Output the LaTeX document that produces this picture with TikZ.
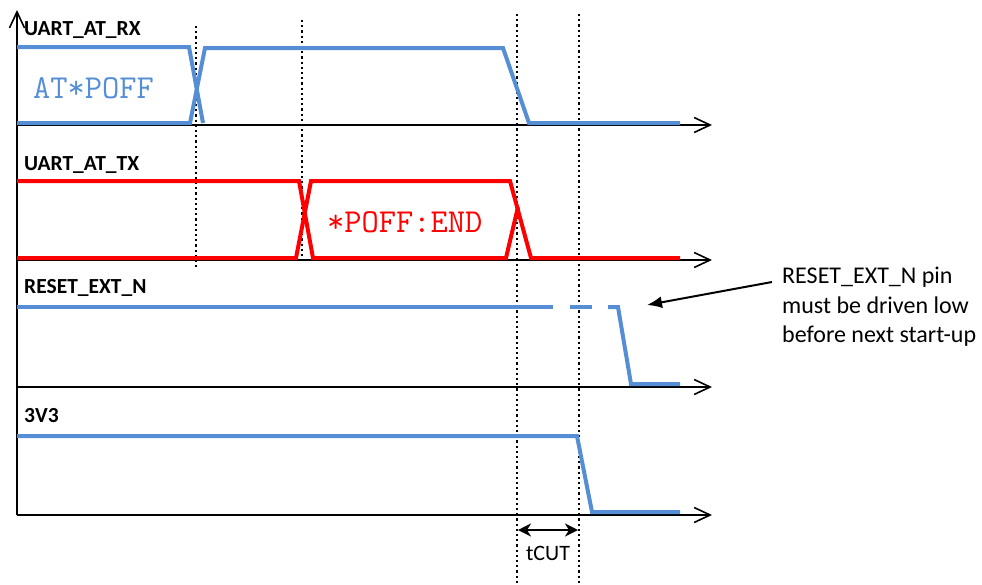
\documentclass[tikz,border=0pt]{standalone}
\usepackage{fontspec}
\setmainfont{Carlito}
\usetikzlibrary{positioning,arrows.meta}
\definecolor{sigblau}{RGB}{85,142,213}

\begin{document}
\begin{tikzpicture}[x=1pt,y=-1pt,
  achse/.style={line width=1.6pt,-{Straight Barb[length=16pt,width=15pt]}},
  hilfslinie/.style={line width=2.2pt,dash pattern=on 2.2pt off 3pt},
  rxsignal/.style={sigblau,line width=4pt},
  txsignal/.style={red,line width=4pt},
  signalname/.style={font=\fontsize{21.5}{24}\selectfont\bfseries,inner sep=0pt,anchor=base west},
  daten/.style={font=\fontsize{33.5}{36}\selectfont\ttfamily,inner sep=0pt,anchor=base west},
  notiz/.style={font=\fontsize{24}{29}\selectfont,inner sep=0pt,anchor=base west}]
\useasboundingbox (0,0) rectangle (982,584);

% achsen
\coordinate (ursprung) at (17,515);
\draw[achse] (ursprung) -- (17,10);
\foreach \y in {125,260,387,515}
  \draw[achse] (17,\y) -- (712,\y);

% gepunktete linien
\draw[hilfslinie] (196,26) -- (196,270);
\draw[hilfslinie] (302,20) -- (302,262);
\draw[hilfslinie] (517,14) -- (517,584);
\draw[hilfslinie] (579,14) -- (579,584);

% UART_AT_RX
\node[signalname] (rx) at (24,35) {UART\_AT\_RX};
\draw[rxsignal] (17,47) -- (189,47) -- (203,123);
\draw[rxsignal] (17,123) -- (190,123) -- (205,48) -- (503,48) -- (529,123) -- (680,123);
\node[daten,text=sigblau] (rxdaten) at (33,98) {AT*POFF};

% UART_AT_TX
\node[signalname] (tx) at (24,170) {UART\_AT\_TX};
\draw[txsignal] (17,181) -- (299,181) -- (313,258) -- (506,258) -- (518,207);
\draw[txsignal] (17,258) -- (296,258) -- (311,181) -- (510,181) -- (531,258) -- (680,258);
\node[daten,text=red] (txdaten) at (327,232) {*POFF:END};

% RESET_EXT_N
\node[signalname] (reset) at (24,293) {RESET\_EXT\_N};
\draw[rxsignal] (17,307) -- (553,307);
\draw[rxsignal] (570,307) -- (592,307);
\draw[rxsignal] (608,307) -- (618,307) -- (631,384) -- (680,384);

% 3V3
\node[signalname] (versorgung) at (24,422) {3V3};
\draw[rxsignal] (17,436) -- (577,436) -- (592,512) -- (680,512);

% hinweis
\node[notiz] (hinweis) at (782,283) {RESET\_EXT\_N pin};
\node[notiz] (hinweis2) at (782,313) {must be driven low};
\node[notiz] (hinweis3) at (782,342) {before next start-up};
\coordinate (pfeilstart) at (772,282);
\coordinate (pfeilziel) at (647,305);
\draw[line width=2pt,-{Latex[length=15pt,width=12pt]}] (pfeilstart) -- (pfeilziel);

% tCUT
\coordinate (cutlinks) at (518,530);
\coordinate (cutrechts) at (578,530);
\draw[line width=2pt,{Stealth[length=13pt,width=13pt,inset=4pt]}-{Stealth[length=13pt,width=13pt,inset=4pt]}] (cutlinks) -- (cutrechts);
\node[font=\fontsize{22}{24}\selectfont,inner sep=0pt,anchor=base] (tcut) at (548,560) {tCUT};

\end{tikzpicture}
\end{document}
